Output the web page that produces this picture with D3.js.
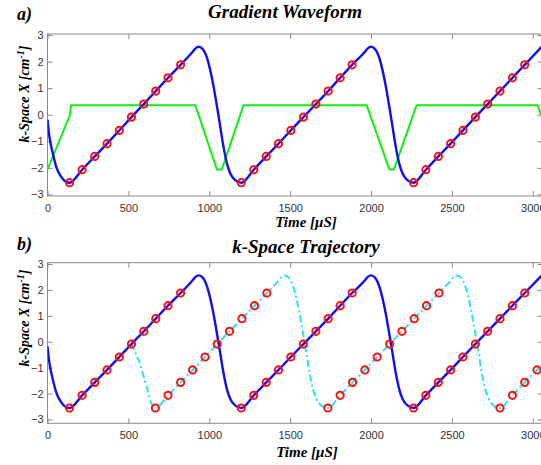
<!DOCTYPE html>
<html>
<head>
<meta charset="utf-8">
<script src="https://cdn.jsdelivr.net/npm/d3@7"></script>
<style>
  body { margin: 0; background: #fff; }
  svg { display: block; }
</style>
</head>
<body>
<svg id="chart"></svg>
<script>
const width = 541;
const height = 465;

// tick labels
const xTicks = [0, 500, 1000, 1500, 2000, 2500, 3000];
const yTicks = [-3, -2, -1, 0, 1, 2, 3];

// k-space trajectory (blue)
const trajTime = [0, 12, 33, 54, 85, 115,
  136, 214, 292, 368, 444, 519, 595, 669, 745, 823,
  895, 915, 934, 955, 972, 988, 1006, 1027, 1048, 1068, 1088, 1109, 1130, 1160,
  1198, 1275, 1352, 1428, 1504, 1582, 1659, 1735, 1809, 1883,
  1960, 1980, 1999, 2020, 2037, 2053, 2071, 2092, 2113, 2133, 2153, 2174, 2195, 2225,
  2263, 2339, 2416, 2492, 2568, 2645, 2721, 2797, 2874, 2950,
  3065];
const trajK = [-0.18, -0.83, -1.46, -1.96, -2.34, -2.53,
  -2.56, -2.07, -1.57, -1.09, -0.59, -0.09, 0.40, 0.89, 1.39, 1.88,
  2.35, 2.50, 2.56, 2.50, 2.35, 2.10, 1.68, 1.05, 0.30, -0.45, -1.21, -1.83, -2.21, -2.46,
  -2.56, -2.07, -1.57, -1.09, -0.59, -0.09, 0.40, 0.89, 1.39, 1.88,
  2.35, 2.50, 2.56, 2.50, 2.35, 2.10, 1.68, 1.05, 0.30, -0.45, -1.21, -1.83, -2.21, -2.46,
  -2.56, -2.07, -1.57, -1.09, -0.59, -0.09, 0.40, 0.89, 1.39, 1.88,
  2.62];

// sample points (red circles) on the blue trajectory
const sampleTime = [136, 214, 292, 368, 444, 519, 595, 669, 745, 823,
  1198, 1275, 1352, 1428, 1504, 1582, 1659, 1735, 1809, 1883,
  2263, 2339, 2416, 2492, 2568, 2645, 2721, 2797, 2874, 2950];
const sampleK = [-2.56, -2.07, -1.57, -1.09, -0.59, -0.09, 0.40, 0.89, 1.39, 1.88,
  -2.56, -2.07, -1.57, -1.09, -0.59, -0.09, 0.40, 0.89, 1.39, 1.88,
  -2.56, -2.07, -1.57, -1.09, -0.59, -0.09, 0.40, 0.89, 1.39, 1.88];

// gradient waveform (green)
const gradTime = [0, 136, 146, 914, 1047, 1078, 1212, 1973, 2113, 2142, 2282, 3031, 3065];
const gradVal = [-2.06, -0.05, 0.36, 0.36, -2.06, -2.06, 0.36, 0.36, -2.06, -2.06, 0.36, 0.36, -0.26];

// shifted trajectory (cyan, dash-dot)
const shiftTime = [519, 545, 574, 595, 615, 640,
  667, 745, 823, 897, 974, 1049, 1125, 1202, 1280, 1356,
  1427, 1447, 1466, 1487, 1504, 1520, 1538, 1559, 1580, 1600, 1620, 1641, 1662, 1692,
  1733, 1809, 1886, 1962, 2038, 2115, 2191, 2267, 2343, 2420,
  2492, 2512, 2531, 2552, 2569, 2585, 2603, 2624, 2645, 2665, 2685, 2706, 2727, 2757,
  2797, 2874, 2950, 3026, 3065];
const shiftK = [-0.06, -0.45, -0.90, -1.35, -1.80, -2.35,
  -2.56, -2.07, -1.57, -1.09, -0.59, -0.09, 0.40, 0.89, 1.39, 1.88,
  2.35, 2.50, 2.56, 2.50, 2.35, 2.10, 1.68, 1.05, 0.30, -0.45, -1.21, -1.83, -2.21, -2.46,
  -2.56, -2.07, -1.57, -1.09, -0.59, -0.09, 0.40, 0.89, 1.39, 1.88,
  2.35, 2.50, 2.56, 2.50, 2.35, 2.10, 1.68, 1.05, 0.30, -0.45, -1.21, -1.83, -2.21, -2.46,
  -2.56, -2.07, -1.57, -1.09, -0.83];

const shiftSampleTime = [667, 745, 823, 897, 974, 1049, 1125, 1202, 1280, 1356,
  1733, 1809, 1886, 1962, 2038, 2115, 2191, 2267, 2343, 2420,
  2797, 2874, 2950, 3026];
const shiftSampleK = [-2.56, -2.07, -1.57, -1.09, -0.59, -0.09, 0.40, 0.89, 1.39, 1.88,
  -2.56, -2.07, -1.57, -1.09, -0.59, -0.09, 0.40, 0.89, 1.39, 1.88,
  -2.56, -2.07, -1.57, -1.09];

const zip = (ts, vs) => ts.map((t, i) => [t, vs[i]]);

const svg = d3.select('#chart')
    .attr('width', width)
    .attr('height', height)
    .attr('viewBox', [0, 0, width, height]);

const serif = '"Liberation Serif", "Times New Roman", serif';
const sans = '"Liberation Sans", Arial, sans-serif';
const axisColor = '#8a8a8a';

function panel(cfg) {
    const x = d3.scaleLinear().domain([0, 3060]).range([47.5, 542.5]);
    const y = d3.scaleLinear().domain(cfg.yDomain).range([cfg.bottom, cfg.top]);
    const g = svg.append('g');

    const clipId = 'clip-' + cfg.name;
    g.append('clipPath').attr('id', clipId)
      .append('rect')
        .attr('x', x.range()[0]).attr('y', cfg.top)
        .attr('width', x.range()[1] - x.range()[0])
        .attr('height', cfg.bottom - cfg.top);

    // axes box with inward ticks
    const styleAxis = sel => {
        sel.select('.domain').remove();
        sel.selectAll('.tick line').attr('stroke', axisColor);
        sel.selectAll('.tick text')
            .attr('fill', '#333')
            .style('font-family', sans)
            .style('font-size', '11px');
    };

    g.append('g')
        .attr('transform', `translate(0,${cfg.bottom})`)
        .call(d3.axisBottom(x).tickValues(xTicks).tickSize(-5).tickPadding(8).tickFormat(d3.format('d')))
        .call(styleAxis);
    g.append('g')
        .attr('transform', `translate(0,${cfg.top})`)
        .call(d3.axisTop(x).tickValues(xTicks).tickSize(-5).tickFormat(''))
        .call(styleAxis);
    g.append('g')
        .attr('transform', `translate(${x.range()[0]},0)`)
        .call(d3.axisLeft(y).tickValues(yTicks).tickSize(-5).tickPadding(4).tickFormat(d3.format('d')))
        .call(styleAxis);
    g.append('g')
        .attr('transform', `translate(${x.range()[1]},0)`)
        .call(d3.axisRight(y).tickValues(yTicks).tickSize(-5).tickFormat(''))
        .call(styleAxis);

    g.append('rect')
        .attr('x', x.range()[0]).attr('y', cfg.top)
        .attr('width', x.range()[1] - x.range()[0])
        .attr('height', cfg.bottom - cfg.top)
        .attr('fill', 'none')
        .attr('stroke', axisColor)
        .attr('stroke-width', 1);

    const plot = g.append('g').attr('clip-path', `url(#${clipId})`);
    const line = d3.line()
        .x(d => x(d[0]))
        .y(d => y(d[1]));

    cfg.lines.forEach(l => {
        plot.append('path')
            .datum(l.data)
            .attr('fill', 'none')
            .attr('stroke', l.color)
            .attr('stroke-width', l.width)
            .attr('stroke-dasharray', l.dash || null)
            .attr('stroke-linejoin', 'round')
            .attr('d', line.curve(l.curve === 'linear' ? d3.curveLinear : d3.curveMonotoneX)(l.data));
    });

    cfg.samples.forEach(s => {
        plot.append('g')
          .selectAll('circle')
          .data(s)
          .join('circle')
            .attr('cx', d => x(d[0]))
            .attr('cy', d => y(d[1]))
            .attr('r', 3.6)
            .attr('fill', 'none')
            .attr('stroke', '#ff1010')
            .attr('stroke-width', 2);
    });

    // labels
    svg.append('text')
        .attr('x', 17).attr('y', cfg.tagY)
        .style('font-family', serif).style('font-weight', 'bold').style('font-style', 'italic')
        .style('font-size', '18px')
        .text(cfg.tag);

    svg.append('text')
        .attr('x', cfg.titleX).attr('y', cfg.titleY)
        .attr('text-anchor', 'middle')
        .style('font-family', serif).style('font-weight', 'bold').style('font-style', 'italic')
        .style('font-size', '19px')
        .text(cfg.title);

    svg.append('text')
        .attr('x', cfg.xLabelX).attr('y', cfg.xLabelY)
        .attr('text-anchor', 'middle')
        .style('font-family', serif).style('font-weight', 'bold').style('font-style', 'italic')
        .style('font-size', '15px')
        .text('Time [μS]');

    const yl = svg.append('text')
        .attr('transform', `translate(29,${cfg.yLabelY}) rotate(-90)`)
        .attr('text-anchor', 'middle')
        .style('font-family', serif).style('font-style', 'italic').style('font-weight', 'bold')
        .style('font-size', '14px');
    yl.append('tspan').text('k-Space X [cm');
    yl.append('tspan').attr('dy', -5).style('font-size', '10px').text('-1');
    yl.append('tspan').attr('dy', 5).text(']');
}

panel({
    name: 'a', tag: 'a)', tagY: 20,
    title: 'Gradient Waveform', titleX: 285, titleY: 18,
    xLabelX: 306, xLabelY: 227, yLabelY: 94,
    top: 34, bottom: 196, yDomain: [-3.06, 3.04],
    lines: [
        { data: zip(gradTime, gradVal), color: '#12ee12', width: 2, curve: 'linear' },
        { data: zip(trajTime, trajK), color: '#1010ee', width: 2.4 }
    ],
    samples: [zip(sampleTime, sampleK)]
});

panel({
    name: 'b', tag: 'b)', tagY: 250,
    title: 'k-Space Trajectory', titleX: 306, titleY: 253,
    xLabelX: 307, xLabelY: 457, yLabelY: 318,
    top: 262.7, bottom: 423.3, yDomain: [-3.15, 3.05],
    lines: [
        { data: zip(shiftTime, shiftK), color: '#22e6f0', width: 2, dash: '7,3,2,3' },
        { data: zip(trajTime, trajK), color: '#1010ee', width: 2.4 }
    ],
    samples: [zip(sampleTime, sampleK), zip(shiftSampleTime, shiftSampleK)]
});
</script>
</body>
</html>
